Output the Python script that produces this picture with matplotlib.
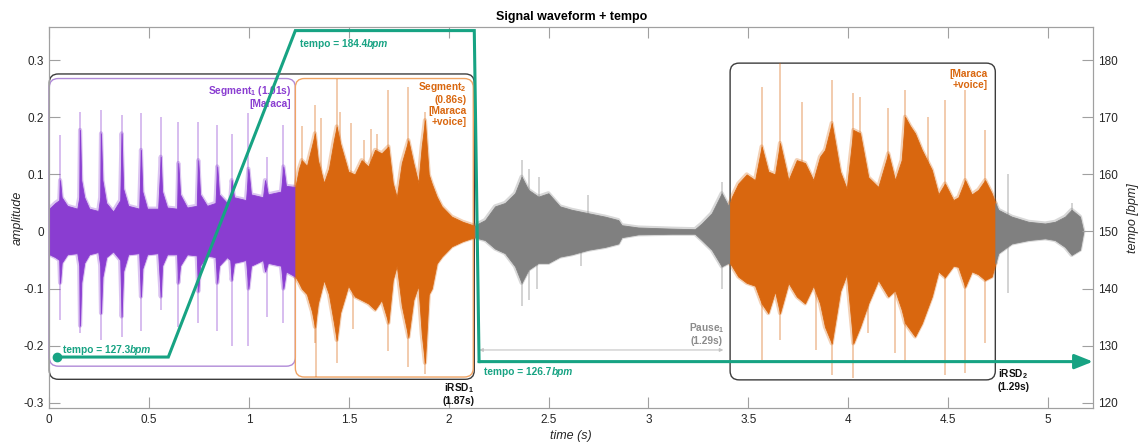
import numpy as np
import matplotlib
matplotlib.use('Agg')
import matplotlib.pyplot as plt
from matplotlib.patches import FancyBboxPatch
from matplotlib.ticker import FuncFormatter

plt.rcParams['font.family'] = ['Liberation Sans', 'DejaVu Sans']
plt.rcParams['mathtext.fontset'] = 'custom'
plt.rcParams['mathtext.rm'] = 'Liberation Sans'
plt.rcParams['mathtext.bf'] = 'Liberation Sans:bold'
plt.rcParams['mathtext.it'] = 'Liberation Sans:italic'

# ---- waveform envelope (time s, upper, lower) ----
env_t = [0.000, 0.030, 0.050, 0.054, 0.062, 0.090, 0.140, 0.150, 0.154, 0.160,
         0.175, 0.200, 0.245, 0.255, 0.259, 0.266, 0.285, 0.320, 0.355, 0.362,
         0.370, 0.395, 0.450, 0.459, 0.466, 0.490, 0.545, 0.558, 0.565, 0.590,
         0.640, 0.646, 0.655, 0.690, 0.738, 0.746, 0.755, 0.790, 0.832, 0.841,
         0.850, 0.890, 0.906, 0.913, 0.925, 0.985, 0.997, 1.010, 1.070, 1.080,
         1.095, 1.160, 1.172, 1.185, 1.232,
         1.250, 1.264, 1.290, 1.315, 1.330, 1.345, 1.375, 1.400, 1.425, 1.439,
         1.456, 1.497, 1.530, 1.564, 1.597, 1.631, 1.664, 1.698, 1.720, 1.740,
         1.765, 1.798, 1.823, 1.848, 1.865, 1.881, 1.900, 1.915, 1.940, 1.965,
         2.015, 2.070, 2.130,
         2.149, 2.182, 2.232, 2.282, 2.332, 2.365, 2.399, 2.449, 2.499, 2.557,
         2.616, 2.699, 2.783, 2.849, 2.866, 2.949, 3.117, 3.233, 3.267, 3.317,
         3.367, 3.400, 3.409,
         3.417, 3.450, 3.492, 3.534, 3.567, 3.600, 3.634, 3.659, 3.701, 3.743,
         3.784, 3.826, 3.859, 3.884, 3.918, 3.960, 3.993, 4.026, 4.060, 4.101,
         4.151, 4.201, 4.235, 4.268, 4.285, 4.310, 4.335, 4.369, 4.419, 4.452,
         4.485, 4.527, 4.552, 4.586, 4.619, 4.652, 4.686, 4.719, 4.737,
         4.752, 4.819, 4.903, 4.986, 5.036, 5.086, 5.119, 5.161, 5.178]
env_hi = [0.040, 0.050, 0.055, 0.090, 0.060, 0.045, 0.040, 0.060, 0.178, 0.090,
          0.060, 0.040, 0.036, 0.060, 0.172, 0.090, 0.050, 0.035, 0.055, 0.172,
          0.075, 0.045, 0.040, 0.143, 0.070, 0.040, 0.040, 0.131, 0.070, 0.042,
          0.040, 0.120, 0.065, 0.042, 0.045, 0.125, 0.065, 0.045, 0.050, 0.114,
          0.065, 0.050, 0.055, 0.090, 0.060, 0.055, 0.110, 0.065, 0.060, 0.090,
          0.065, 0.070, 0.114, 0.080, 0.078,
          0.110, 0.125, 0.115, 0.150, 0.172, 0.125, 0.085, 0.110, 0.160, 0.184,
          0.155, 0.105, 0.100, 0.125, 0.114, 0.143, 0.137, 0.149, 0.085, 0.060,
          0.120, 0.160, 0.120, 0.085, 0.150, 0.195, 0.100, 0.084, 0.061, 0.044,
          0.026, 0.017, 0.010,
          0.014, 0.020, 0.044, 0.050, 0.067, 0.096, 0.073, 0.061, 0.067, 0.044,
          0.038, 0.032, 0.026, 0.020, 0.011, 0.007, 0.005, 0.004, 0.014, 0.032,
          0.067, 0.045, 0.050,
          0.060, 0.084, 0.100, 0.090, 0.149, 0.105, 0.100, 0.155, 0.090, 0.125,
          0.120, 0.090, 0.131, 0.143, 0.190, 0.105, 0.075, 0.178, 0.172, 0.095,
          0.078, 0.137, 0.090, 0.125, 0.201, 0.185, 0.172, 0.143, 0.108, 0.065,
          0.084, 0.055, 0.060, 0.090, 0.065, 0.073, 0.090, 0.067, 0.050,
          0.038, 0.026, 0.017, 0.014, 0.017, 0.026, 0.038, 0.026, 0.000]
env_lo = [-0.040, -0.045, -0.050, -0.090, -0.055, -0.040, -0.038, -0.060, -0.165, -0.090,
          -0.055, -0.040, -0.036, -0.060, -0.143, -0.080, -0.045, -0.035, -0.050, -0.149,
          -0.070, -0.040, -0.038, -0.114, -0.065, -0.040, -0.038, -0.114, -0.060, -0.040,
          -0.040, -0.090, -0.060, -0.040, -0.042, -0.105, -0.060, -0.042, -0.045, -0.090,
          -0.060, -0.045, -0.050, -0.085, -0.055, -0.050, -0.100, -0.060, -0.050, -0.070,
          -0.055, -0.060, -0.100, -0.070, -0.079,
          -0.090, -0.100, -0.110, -0.140, -0.167, -0.126, -0.085, -0.110, -0.160, -0.190,
          -0.143, -0.095, -0.114, -0.120, -0.126, -0.137, -0.120, -0.160, -0.085, -0.060,
          -0.130, -0.185, -0.120, -0.095, -0.180, -0.230, -0.110, -0.100, -0.056, -0.044,
          -0.026, -0.017, -0.010,
          -0.012, -0.015, -0.030, -0.038, -0.061, -0.090, -0.067, -0.055, -0.055, -0.044,
          -0.040, -0.032, -0.027, -0.021, -0.010, -0.005, -0.004, -0.004, -0.015, -0.032,
          -0.061, -0.055, -0.056,
          -0.060, -0.079, -0.090, -0.095, -0.126, -0.143, -0.105, -0.143, -0.090, -0.114,
          -0.126, -0.095, -0.126, -0.167, -0.196, -0.105, -0.075, -0.196, -0.167, -0.126,
          -0.085, -0.114, -0.103, -0.137, -0.160, -0.172, -0.184, -0.161, -0.114, -0.070,
          -0.080, -0.060, -0.062, -0.097, -0.070, -0.075, -0.085, -0.079, -0.056,
          -0.038, -0.021, -0.015, -0.012, -0.015, -0.027, -0.041, -0.032, 0.000]

# isolated light spikes (time, tip)
spike_up_t = [0.054, 0.154, 0.259, 0.362, 0.459, 0.558, 0.646, 0.746, 0.841, 0.913, 0.997, 1.089, 1.172,
              1.264, 1.330, 1.361, 1.439, 1.456, 1.509, 1.575, 1.610, 1.640, 1.698, 1.798, 1.881,
              2.365, 2.400, 2.450, 2.699, 3.367,
              3.567, 3.660, 3.770, 3.918, 4.026, 4.060, 4.201, 4.285, 4.400, 4.485, 4.586, 4.686,
              4.800, 5.120]
spike_up_v = [0.169, 0.210, 0.213, 0.204, 0.207, 0.201, 0.192, 0.192, 0.187, 0.170, 0.207, 0.130, 0.187,
              0.184, 0.222, 0.199, 0.268, 0.210, 0.190, 0.160, 0.180, 0.170, 0.248, 0.254, 0.210,
              0.125, 0.110, 0.095, 0.064, 0.087,
              0.254, 0.295, 0.227, 0.265, 0.242, 0.236, 0.216, 0.248, 0.200, 0.230, 0.248, 0.178,
              0.100, 0.050]
spike_dn_t = [0.054, 0.154, 0.259, 0.362, 0.459, 0.558, 0.646, 0.746, 0.841, 0.913, 0.997, 1.089, 1.172,
              1.330, 1.337, 1.439, 1.520, 1.698, 1.798, 1.881,
              2.365, 2.400, 2.440, 2.660, 3.367,
              3.567, 3.659, 3.840, 3.918, 4.026, 4.100, 4.235, 4.285, 4.485, 4.586, 4.686,
              4.800]
spike_dn_v = [-0.155, -0.178, -0.190, -0.184, -0.175, -0.138, -0.167, -0.160, -0.175, -0.200, -0.200, -0.149, -0.161,
              -0.196, -0.255, -0.230, -0.170, -0.210, -0.237, -0.250,
              -0.130, -0.120, -0.100, -0.060, -0.100,
              -0.225, -0.190, -0.208, -0.251, -0.257, -0.178, -0.213, -0.231, -0.251, -0.248, -0.196,
              -0.108]

seg_bounds = [0.0, 1.232, 2.130, 3.409, 4.737, 5.178]
seg_colors = ['#8a3dd1', '#d9670f', '#808080', '#d9670f', '#808080']

# tempo curve (bpm)
tempo_t = [0.04, 0.596, 1.232, 2.128, 2.152, 5.226]
tempo_v = [128.0, 128.0, 185.2, 185.2, 127.2, 127.2]

green = '#17a383'
purple = '#8a3dd1'
orange = '#d9670f'

fig = plt.figure(figsize=(11.42, 4.46), dpi=100)
ax = fig.add_axes([0.04317, 0.08453, 0.9139, 0.8543])
ax.set_xlim(0, 5.226)
ax.set_ylim(-0.3098, 0.3578)

# waveform
t = np.array(env_t)
hi = np.array(env_hi)
lo = np.array(env_lo)
for k, c in enumerate(seg_colors):
    m = (t >= seg_bounds[k] - 1e-9) & (t <= seg_bounds[k + 1] + 1e-9)
    # pale halo, then the dense core
    ax.fill_between(t[m], lo[m], hi[m], facecolor='none', edgecolor=c, lw=3.0,
                    alpha=0.3, zorder=2)
    ax.fill_between(t[m], lo[m], hi[m], color=c, lw=0.6, zorder=3)

def col_at(x):
    k = min(np.searchsorted(seg_bounds, x) - 1, len(seg_colors) - 1)
    return seg_colors[max(k, 0)]

for x, v in zip(spike_up_t, spike_up_v):
    ax.vlines(x, 0, v, color=col_at(x), lw=1.2, alpha=0.4, zorder=2)
for x, v in zip(spike_dn_t, spike_dn_v):
    ax.vlines(x, v, 0, color=col_at(x), lw=1.2, alpha=0.4, zorder=2)

# rounded boxes
asp = (ax.bbox.width / 5.226) / (ax.bbox.height / (0.3578 + 0.3098))
def rbox(x0, x1, y0, y1, ec):
    p = FancyBboxPatch((x0, y0), x1 - x0, y1 - y0,
                       boxstyle='round,pad=0,rounding_size=0.045',
                       mutation_aspect=asp, fc='none', ec=ec, lw=1.0,
                       zorder=1, clip_on=False)
    ax.add_patch(p)

rbox(0.0, 2.128, -0.259, 0.276, '#3c3c3c')
rbox(0.0, 1.232, -0.236, 0.268, '#b08ad8')
rbox(1.232, 2.123, -0.255, 0.268, '#f0a464')
rbox(3.409, 4.737, -0.260, 0.295, '#3c3c3c')

# annotations
tk = dict(fontsize=7.3, fontweight='bold', linespacing=1.15, zorder=6)
ax.text(1.212, 0.258, 'Segment$_{\\mathbf{1}}$ (1.01s)\n[Maraca]', color=purple,
        ha='right', va='top', multialignment='right', **tk)
ax.text(2.090, 0.266, 'Segment$_{\\mathbf{2}}$\n(0.86s)\n[Maraca\n+voice]', color=orange,
        ha='right', va='top', multialignment='right', **tk)
ax.text(4.697, 0.285, '[Maraca\n+voice]', color=orange,
        ha='right', va='top', multialignment='right', **tk)
ax.text(2.050, -0.262, 'iRSD$_{\\mathbf{1}}$\n(1.87s)', color='#111111',
        ha='center', va='top', multialignment='center', **tk)
ax.text(4.826, -0.237, 'iRSD$_{\\mathbf{2}}$\n(1.29s)', color='#111111',
        ha='center', va='top', multialignment='center', **tk)
ax.text(3.293, -0.157, 'Pause$_{\\mathbf{1}}$\n(1.29s)', color='#8c8c8c',
        ha='center', va='top', multialignment='center', **tk)
ax.annotate('', xy=(3.375, -0.2076), xytext=(2.153, -0.2076),
            arrowprops=dict(arrowstyle='<|-|>', color='#c4c4c4', lw=0.8,
                            mutation_scale=5, shrinkA=0, shrinkB=0), zorder=4)

def tempo_label(x, y, val):
    t1 = ax.text(x, y, 'tempo = %s' % val, color=green, ha='left', va='center', **tk)
    ax.annotate('bpm', xy=(1, 0), xycoords=t1, ha='left', va='bottom', color=green,
                fontsize=7.3, fontweight='bold', style='italic', zorder=6)

tempo_label(1.255, 0.3286, '184.4')
tempo_label(0.067, -0.2076, '127.3')
tempo_label(2.178, -0.2460, '126.7')

# axes styling
spc = '#a0a0a0'
for s in ax.spines.values():
    s.set_color(spc)
ax.set_xticks(np.arange(0, 5.01, 0.5))
ax.set_yticks(np.arange(-0.3, 0.31, 0.1))
fmt = FuncFormatter(lambda v, p: '%g' % round(v, 2))
ax.xaxis.set_major_formatter(fmt)
ax.yaxis.set_major_formatter(fmt)
ax.tick_params(direction='in', length=8, width=0.8, color=spc, labelcolor='#262626',
               labelsize=8.5, top=True, right=False, pad=4)
ax.set_xlabel('time (s)', style='italic', fontsize=9, color='#262626', labelpad=3)
ax.set_ylabel('amplitude', style='italic', fontsize=9, color='#262626', labelpad=0)
ax.set_title('Signal waveform + tempo', fontsize=9, fontweight='bold', pad=5)

ax2 = ax.twinx()
ax2.set_ylim(150 + 100 * -0.3098, 150 + 100 * 0.3578)
ax2.set_yticks(np.arange(120, 181, 10))
for s in ax2.spines.values():
    s.set_color(spc)
ax2.tick_params(direction='in', length=8, width=0.8, color=spc, labelcolor='#262626',
                labelsize=8.5, pad=4)
ax2.set_ylabel('tempo [bpm]', style='italic', fontsize=9, color='#262626', labelpad=6)

ax2.plot(tempo_t[:-1], tempo_v[:-1], color=green, lw=2.2, solid_joinstyle='miter', zorder=5)
ax2.plot(tempo_t[0], tempo_v[0], 'o', color=green, ms=6, zorder=5)
ax2.annotate('', xy=(tempo_t[-1], tempo_v[-1]), xytext=(tempo_t[-2], tempo_v[-2]),
             arrowprops=dict(arrowstyle='-|>,head_length=0.55,head_width=0.22', color=green,
                             lw=2.2, mutation_scale=20, shrinkA=0, shrinkB=0),
             annotation_clip=False)

fig.savefig('out.png', dpi=100)
